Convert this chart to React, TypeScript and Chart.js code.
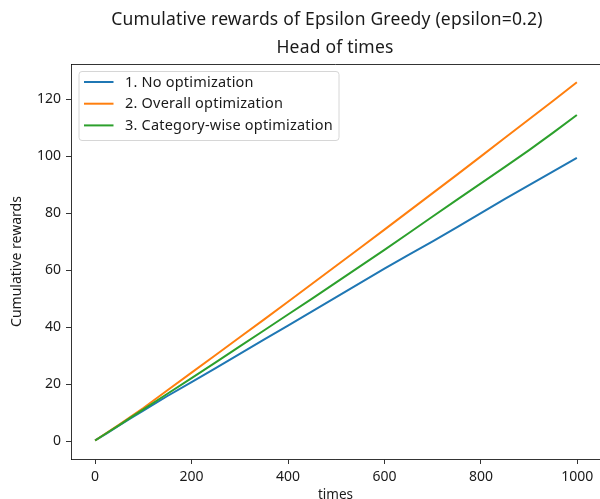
import React, { useEffect, useRef } from "react";
import { Chart, registerables } from "chart.js";

Chart.register(...registerables);

const steps = [0, 25, 50, 75, 100, 150, 200, 250, 300, 350, 400, 450, 500, 550, 600, 650, 700, 750, 800, 850, 900, 950, 999];
const noOptimization = [0.2, 2.8, 5.5, 8.1, 10.7, 15.8, 20.7, 25.6, 30.6, 35.6, 40.5, 45.5, 50.5, 55.5, 60.5, 65.3, 70.1, 75.0, 80.0, 85.0, 89.8, 94.6, 99.4];
const overallOptimization = [0.2, 3.0, 5.8, 8.7, 11.6, 17.8, 24.0, 30.2, 36.4, 42.6, 48.9, 55.2, 61.5, 67.8, 74.2, 80.6, 87.0, 93.4, 99.9, 106.4, 112.9, 119.4, 125.9];
const categoryOptimization = [0.2, 2.9, 5.6, 8.4, 11.1, 16.6, 22.1, 27.6, 33.2, 38.8, 44.4, 50.0, 55.7, 61.4, 67.1, 72.9, 78.8, 84.6, 90.4, 96.2, 102.1, 108.2, 114.4];

const seriesLabels = ["1. No optimization", "2. Overall optimization", "3. Category-wise optimization"];
const seriesColors = ["#1f77b4", "#ff7f0e", "#2ca02c"];
const xTicks = [0, 200, 400, 600, 800, 1000];
const yTicks = [0, 20, 40, 60, 80, 100, 120];
const titleLine1 = "Cumulative rewards of Epsilon Greedy (epsilon=0.2)";
const titleLine2 = "Head of times";
const xAxisTitle = "times";
const yAxisTitle = "Cumulative rewards";

const FONT = "'Noto Sans', 'DejaVu Sans', sans-serif";
const INK = "#1a1a1a";

const decorPlugin = {
  id: "decor",
  afterDatasetsDraw(chart: any) {
    const { ctx, chartArea } = chart;
    ctx.save();
    // top spine
    ctx.strokeStyle = "#000";
    ctx.lineWidth = 0.8;
    ctx.beginPath();
    ctx.moveTo(chartArea.left, chartArea.top + 0.5);
    ctx.lineTo(chartArea.right, chartArea.top + 0.5);
    ctx.stroke();

    // titles
    ctx.fillStyle = INK;
    ctx.font = `17.5px ${FONT}`;
    (ctx as any).letterSpacing = "0.2px";
    ctx.textAlign = "center";
    ctx.textBaseline = "middle";
    ctx.fillText(titleLine1, 327, 20.5);
    ctx.fillText(titleLine2, 335, 48.5);

    // legend
    const bx = chartArea.left + 7.5;
    const by = chartArea.top + 7;
    const bw = 260;
    const bh = 69;
    ctx.beginPath();
    ctx.roundRect(bx + 0.5, by + 0.5, bw, bh, 3);
    ctx.fillStyle = "rgba(255,255,255,0.8)";
    ctx.fill();
    ctx.strokeStyle = "#d6d6d6";
    ctx.lineWidth = 1;
    ctx.stroke();
    ctx.font = `14.5px ${FONT}`;
    (ctx as any).letterSpacing = "0.2px";
    ctx.textAlign = "left";
    chart.data.datasets.forEach((ds: any, i: number) => {
      const y = by + 11 + i * 21.7;
      ctx.strokeStyle = ds.borderColor;
      ctx.lineWidth = 2;
      ctx.beginPath();
      ctx.moveTo(bx + 5.5, y);
      ctx.lineTo(bx + 35, y);
      ctx.stroke();
      ctx.fillStyle = INK;
      ctx.fillText(ds.label, bx + 46.5, y + 0.5);
    });
    ctx.restore();
  },
};

export default function App() {
  const ref = useRef<HTMLCanvasElement | null>(null);
  useEffect(() => {
    document.body.style.margin = "0";
    const canvas = ref.current;
    if (!canvas) return;
    const seriesValues = [noOptimization, overallOptimization, categoryOptimization];
    const chart = new Chart(canvas, {
      type: "line",
      data: {
        datasets: seriesValues.map((vals, i) => ({
          label: seriesLabels[i],
          data: steps.map((s, j) => ({ x: s, y: vals[j] })),
          borderColor: seriesColors[i],
          backgroundColor: seriesColors[i],
          borderWidth: 2,
          pointRadius: 0,
          tension: 0,
          order: 3 - i,
        })),
      },
      options: {
        animation: false,
        responsive: false,
        events: [],
        layout: { padding: { top: 64, left: 0, right: 0, bottom: 0 } },
        plugins: {
          legend: { display: false },
          title: { display: false },
          tooltip: { enabled: false },
        },
        scales: {
          x: {
            type: "linear",
            min: -50,
            max: 1047,
            afterBuildTicks: (scale: any) => {
              scale.ticks = xTicks.map((v) => ({ value: v }));
            },
            afterFit: (scale: any) => {
              scale.height = 40;
            },
            grid: {
              display: true,
              drawOnChartArea: false,
              drawTicks: true,
              tickLength: 5,
              color: "#000",
              lineWidth: 0.8,
            },
            border: { display: true, color: "#000", width: 0.8 },
            ticks: {
              color: INK,
              font: { family: FONT, size: 14 },
              padding: 5,
              maxRotation: 0,
              autoSkip: false,
              callback: (v: any) => String(v),
            },
            title: {
              display: true,
              text: xAxisTitle,
              color: INK,
              font: { family: FONT, size: 13.5, lineHeight: 0.6 },
              padding: { top: 0, bottom: 0 },
            },
          },
          y: {
            type: "linear",
            min: -6.3,
            max: 132.3,
            afterBuildTicks: (scale: any) => {
              scale.ticks = yTicks.map((v) => ({ value: v }));
            },
            afterFit: (scale: any) => {
              scale.width = 71;
            },
            grid: {
              display: true,
              drawOnChartArea: false,
              drawTicks: true,
              tickLength: 5,
              color: "#000",
              lineWidth: 0.8,
            },
            border: { display: true, color: "#000", width: 0.8 },
            ticks: {
              color: INK,
              font: { family: FONT, size: 14 },
              padding: 5,
              autoSkip: false,
              callback: (v: any) => String(v),
            },
            title: {
              display: true,
              text: yAxisTitle,
              color: INK,
              font: { family: FONT, size: 14, lineHeight: 1.2 },
              padding: { top: 9, bottom: 0 },
            },
          },
        },
      },
      plugins: [decorPlugin],
    });
    return () => chart.destroy();
  }, []);
  return (
    <div style={{ width: 600, height: 499, background: "#fff" }}>
      <canvas ref={ref} width={600} height={499} />
    </div>
  );
}
